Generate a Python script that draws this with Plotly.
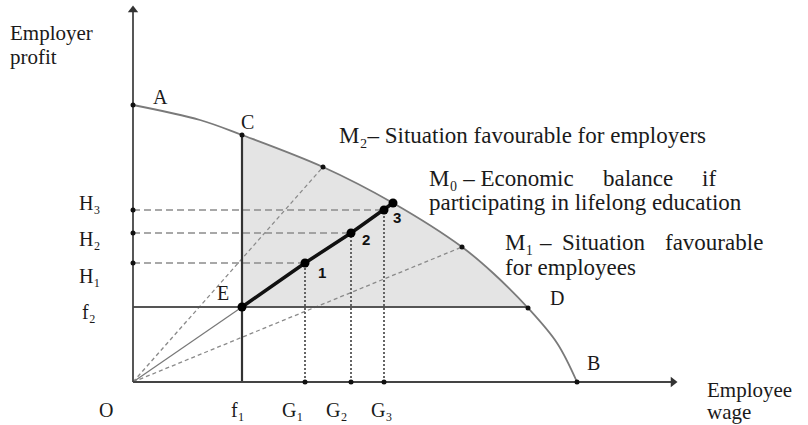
import plotly.graph_objects as go

# ---------------- data (diagram units: origin O at 0,0) ----------------
frontier_wage = [0, 67, 109, 190, 260, 329, 360, 395, 424, 444]
frontier_profit = [277, 262, 247, 215, 179, 135, 109, 74, 39, 0]
idx_C, idx_M2, idx_M0, idx_M1, idx_D = 2, 3, 4, 5, 7

f1 = 109            # minimum wage
f2 = 75             # minimum profit
G_values = [172, 218, 251]
H_values = [119, 149, 172]
G_labels = ["G₁", "G₂", "G₃"]
H_labels = ["H₁", "H₂", "H₃"]
point_labels = ["1", "2", "3"]

x_axis_end = 540
y_axis_end = 372

SERIF = "Liberation Serif, Times New Roman, serif"
TXT = "#1a1a1a"

fig = go.Figure()

# shaded feasible region between f2, f1 and the frontier
fig.add_trace(go.Scatter(x=[f1, frontier_wage[idx_D]], y=[f2, f2], mode="lines",
                         line=dict(width=0, color="rgba(0,0,0,0)"), hoverinfo="skip"))
fig.add_trace(go.Scatter(x=frontier_wage[idx_C:idx_D + 1], y=frontier_profit[idx_C:idx_D + 1],
                         mode="lines", line=dict(width=0, shape="spline", color="rgba(0,0,0,0)"),
                         fill="tonexty", fillcolor="#e4e4e4", hoverinfo="skip"))

# dashed rays M2 and M1
for idx in (idx_M2, idx_M1):
    fig.add_trace(go.Scatter(x=[0, frontier_wage[idx]], y=[0, frontier_profit[idx]], mode="lines",
                             line=dict(color="#8a8a8a", width=1.3, dash="4px,3px")))

# H dashed and G dotted guides
for g, h in zip(G_values, H_values):
    fig.add_trace(go.Scatter(x=[0, g], y=[h, h], mode="lines",
                             line=dict(color="#8c8c8c", width=1.6, dash="7px,4px")))
    fig.add_trace(go.Scatter(x=[g, g], y=[0, h], mode="lines",
                             line=dict(color="#555555", width=1.8, dash="2px,2px")))

# frontier curve
fig.add_trace(go.Scatter(x=frontier_wage, y=frontier_profit, mode="lines",
                         line=dict(color="#7a7a7a", width=1.8, shape="spline")))

# f2 horizontal and f1 vertical
fig.add_trace(go.Scatter(x=[0, frontier_wage[idx_D]], y=[f2, f2], mode="lines",
                         line=dict(color="#555555", width=1.8)))
fig.add_trace(go.Scatter(x=[f1, f1], y=[0, frontier_profit[idx_C]], mode="lines",
                         line=dict(color="#333333", width=2.2)))

# O -> E thin, E -> frontier thick (M0)
fig.add_trace(go.Scatter(x=[0, f1], y=[0, f2], mode="lines",
                         line=dict(color="#777777", width=1.2)))
m0_x = [f1] + G_values + [frontier_wage[idx_M0]]
m0_y = [f2] + H_values + [frontier_profit[idx_M0]]
fig.add_trace(go.Scatter(x=m0_x, y=m0_y, mode="lines",
                         line=dict(color="#111111", width=3.5)))

# axes
fig.add_trace(go.Scatter(x=[0, x_axis_end], y=[0, 0], mode="lines",
                         line=dict(color="#444444", width=1.8)))
fig.add_trace(go.Scatter(x=[0, 0], y=[0, y_axis_end], mode="lines",
                         line=dict(color="#444444", width=1.8)))
fig.add_trace(go.Scatter(x=[x_axis_end], y=[0], mode="markers",
                         marker=dict(symbol="triangle-right", size=9, color="#333333")))
fig.add_trace(go.Scatter(x=[0], y=[y_axis_end], mode="markers",
                         marker=dict(symbol="triangle-up", size=9, color="#333333")))

# small dots
sx = [0, frontier_wage[idx_C], frontier_wage[idx_M2], frontier_wage[idx_M1],
      frontier_wage[idx_D], frontier_wage[-1]] + [0] * 3 + G_values
sy = [frontier_profit[0], frontier_profit[idx_C], frontier_profit[idx_M2], frontier_profit[idx_M1],
      frontier_profit[idx_D], 0] + H_values + [0] * 3
fig.add_trace(go.Scatter(x=sx, y=sy, mode="markers",
                         marker=dict(size=5, color="#111111")))
# big dots
fig.add_trace(go.Scatter(x=m0_x, y=m0_y, mode="markers",
                         marker=dict(size=9, color="#000000")))

ann = []
def txt(x, y, t, size=23, xanchor="center", font=SERIF, color=TXT):
    ann.append(dict(x=x, y=y, text=t, showarrow=False, xref="x", yref="y",
                    xanchor=xanchor, yanchor="middle",
                    font=dict(family=font, size=size, color=color)))

txt(-125, 349, "Employer", size=21, xanchor="left")
txt(-125, 325, "profit", size=21, xanchor="left")
txt(572, -8, "Employee", size=21, xanchor="left")
txt(572, -30, "wage", size=21, xanchor="left")

txt(27, 285, "A", size=20)
txt(114, 260, "C", size=20)
txt(90, 89, "E", size=20)
txt(424, 84, "D", size=20)
txt(460, 19, "B", size=20)
txt(-27, -28, "O", size=20)
txt(105, -28, "f₁", size=20)
for gx, lab in zip([159, 203, 248], G_labels):
    txt(gx, -28, lab, size=20)
for hy, lab in zip([106, 143, 179], H_labels):
    txt(-44, hy, lab, size=20)
txt(-44, 70, "f₂", size=20)

for (px, py), lab in zip([(189, 110), (233, 143), (264, 165)], point_labels):
    txt(px, py, "<b>" + lab + "</b>", size=15, font="Liberation Sans, Arial, sans-serif", color="#111111")

txt(204, 247, "M₂– Situation favourable for employers", xanchor="left")
txt(294, 204, "M₀ – Economic", xanchor="left")
txt(505, 204, "balance", xanchor="center")
txt(585, 204, "if", xanchor="right")
txt(294, 180, "participating in lifelong education", xanchor="left")
txt(370, 140, "M₁", xanchor="left")
txt(412, 140, "–", xanchor="center")
txt(427, 140, "Situation", xanchor="left")
txt(632, 140, "favourable", xanchor="right")
txt(370, 115, "for employees", xanchor="left")

fig.update_layout(
    width=808, height=425,
    margin=dict(l=0, r=0, t=0, b=0),
    paper_bgcolor="white", plot_bgcolor="white",
    showlegend=False,
    xaxis=dict(visible=False, range=[-133, 675], fixedrange=True),
    yaxis=dict(visible=False, range=[-43, 382], fixedrange=True),
    annotations=ann,
)

fig.write_html("out.html", config={"displayModeBar": False},
               post_script="document.body.style.margin='0';document.body.style.overflow='hidden';")
